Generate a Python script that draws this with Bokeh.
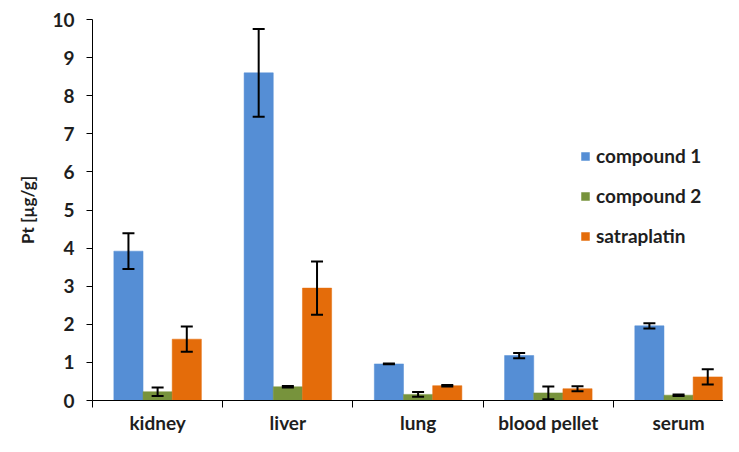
from bokeh.plotting import figure
from bokeh.models import (Range1d, FixedTicker, ColumnDataSource, Whisker,
                          Legend, LegendItem, TeeHead)
from bokeh.embed import file_html
from bokeh.resources import INLINE

categories = ["kidney", "liver", "lung", "blood pellet", "serum"]
series = ["compound 1", "compound 2", "satraplatin"]
compound1 = [3.92, 8.60, 0.96, 1.18, 1.96]
compound1_err = [0.47, 1.15, 0.01, 0.07, 0.07]
compound2 = [0.23, 0.36, 0.16, 0.20, 0.14]
compound2_err = [0.11, 0.02, 0.06, 0.17, 0.02]
satraplatin = [1.61, 2.95, 0.39, 0.31, 0.62]
satraplatin_err = [0.33, 0.70, 0.02, 0.065, 0.20]
y_ticks = [0, 1, 2, 3, 4, 5, 6, 7, 8, 9, 10]

colors = ["#558ED5", "#77933C", "#E46C0A"]
values = [compound1, compound2, satraplatin]
errors = [compound1_err, compound2_err, satraplatin_err]

FONT = "Lato"
TXT = "#1e1e1e"
BAR_W = 0.224

p = figure(width=723, height=436, output_backend="svg", toolbar_location=None,
           x_range=Range1d(0, 4.845), y_range=Range1d(0, 10),
           min_border_left=92, min_border_right=0, min_border_top=19,
           min_border_bottom=30)
p.outline_line_color = None
p.xgrid.visible = False
p.ygrid.visible = False

renderers = []
for j, (name, vals, errs, col) in enumerate(zip(series, values, errors, colors)):
    xs = [i + 0.5 + (j - 1) * BAR_W for i in range(len(categories))]
    src = ColumnDataSource(dict(x=xs, top=vals,
                                upper=[v + e for v, e in zip(vals, errs)],
                                lower=[v - e for v, e in zip(vals, errs)]))
    r = p.vbar(x="x", top="top", width=BAR_W, bottom=0, source=src,
               fill_color=col, line_color=col, line_width=0.5)
    renderers.append(r)
    w = Whisker(base="x", upper="upper", lower="lower", source=src,
                level="overlay", line_color="black", line_width=2,
                upper_head=TeeHead(size=12, line_color="black", line_width=2),
                lower_head=TeeHead(size=12, line_color="black", line_width=2))
    p.add_layout(w)

xa = p.xaxis[0]
centres = [i + 0.5 for i in range(len(categories))]
xa.ticker = FixedTicker(ticks=centres,
                        minor_ticks=list(range(len(categories) + 1)))
xa.major_label_overrides = {c: lab for c, lab in zip(centres, categories)}
xa.major_tick_out = 0
xa.major_tick_in = 0
xa.minor_tick_out = 7
xa.minor_tick_in = 0
xa.minor_tick_line_color = "black"
xa.axis_line_color = "black"
xa.major_label_text_font = FONT
xa.major_label_text_font_style = "bold"
xa.major_label_text_font_size = "19px"
xa.major_label_text_color = TXT
xa.major_label_standoff = 3

ya = p.yaxis[0]
ya.ticker = FixedTicker(ticks=y_ticks)
ya.major_tick_out = 6
ya.major_tick_in = 0
ya.minor_tick_out = 0
ya.minor_tick_in = 0
ya.axis_line_color = "black"
ya.major_tick_line_color = "black"
ya.major_label_text_font = FONT
ya.major_label_text_font_style = "bold"
ya.major_label_text_font_size = "19px"
ya.major_label_text_color = TXT
ya.major_label_standoff = 12
ya.axis_label = "Pt [µg/g]"
ya.axis_label_text_font = FONT
ya.axis_label_text_font_style = "bold"
ya.axis_label_text_font_size = "17px"
ya.axis_label_text_color = TXT
ya.axis_label_standoff = 11

legend = Legend(items=[LegendItem(label=s, renderers=[r]) for s, r in zip(series, renderers)],
                location=(488, 153), glyph_width=10, glyph_height=10,
                label_height=20, spacing=17, padding=10, label_standoff=6,
                label_text_font=FONT, label_text_font_style="bold",
                label_text_font_size="19px", label_text_color=TXT,
                border_line_color=None, background_fill_alpha=0)
p.add_layout(legend, "center")

open("out.html", "w").write(file_html(p, INLINE))
